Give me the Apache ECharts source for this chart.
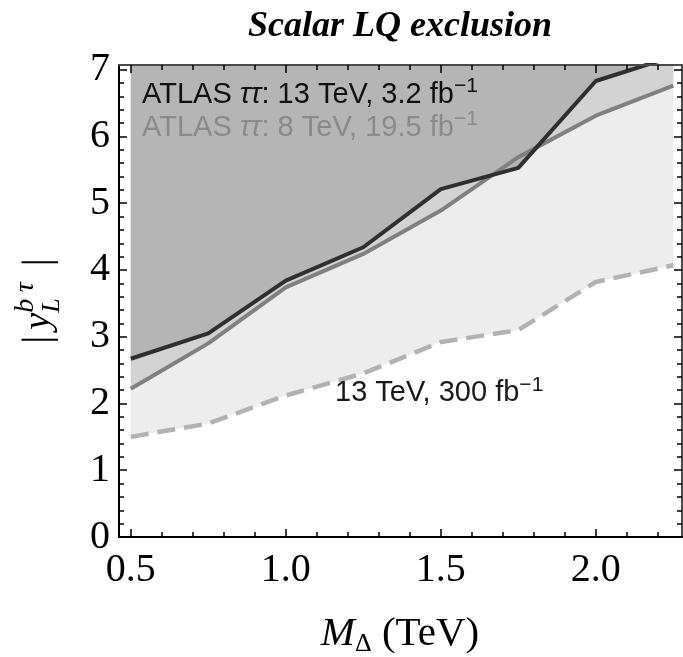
<!DOCTYPE html>
<html lang="en">
<head>
    <meta charset="UTF-8">
    <title>Scalar LQ exclusion</title>
    <script src="https://cdn.jsdelivr.net/npm/echarts@6/dist/echarts.min.js"></script>
    <style>
        html, body { margin: 0; padding: 0; background: #fff; }
        #chart { width: 683px; height: 657px; }
    </style>
</head>
<body>
<div id="chart"></div>

<script>
    // limits, M_Delta in TeV vs |y_L^{b tau}|
    const massTeV = [0.5, 0.75, 1.0, 1.25, 1.5, 1.75, 2.0, 2.25];
    const atlas13 = [2.67, 3.05, 3.84, 4.34, 5.21, 5.53, 6.83, 7.20];
    const atlas8 = [2.22, 2.90, 3.74, 4.24, 4.89, 5.69, 6.31, 6.76];
    const proj300 = [1.50, 1.70, 2.12, 2.45, 2.92, 3.10, 3.82, 4.07];

    const xMajor = [0.5, 1.0, 1.5, 2.0];
    const xMinor = [0.6, 0.7, 0.8, 0.9, 1.1, 1.2, 1.3, 1.4, 1.6, 1.7, 1.8, 1.9, 2.1, 2.2];
    const yMajor = [0, 1, 2, 3, 4, 5, 6, 7];
    const yMinor = [0.2, 0.4, 0.6, 0.8, 1.2, 1.4, 1.6, 1.8, 2.2, 2.4, 2.6, 2.8, 3.2, 3.4, 3.6, 3.8,
        4.2, 4.4, 4.6, 4.8, 5.2, 5.4, 5.6, 5.8, 6.2, 6.4, 6.6, 6.8];

    const X_MIN = 0.462, X_MAX = 2.278, Y_MIN = 0, Y_MAX = 7.07;

    const serif = '"Liberation Serif", "DejaVu Serif", serif';
    const sans = '"Liberation Sans", Arial, sans-serif';

    const chart = echarts.init(document.getElementById('chart'), null, {renderer: 'canvas'});

    // text made of runs (sub/superscripts), measured with a canvas
    const ctx = document.createElement('canvas').getContext('2d');
    function textRun(parts, opt) {
        let x = 0, hold = 0;
        const kids = [];
        parts.forEach(function (p) {
            const font = (p.style || '') + ' ' + p.size + 'px ' + (p.family || opt.family);
            ctx.font = font;
            const w = ctx.measureText(p.t).width;
            x += p.dx || 0;
            kids.push({
                type: 'text',
                z: 100,
                x: x,
                y: (p.dy || 0) - 0.34 * p.size,
                style: {text: p.t, font: font, fill: p.color || opt.color, align: 'left', verticalAlign: 'middle'}
            });
            if (p.stay) {
                hold = Math.max(hold, w);
            } else {
                x += Math.max(w, hold);
                hold = 0;
            }
        });
        if (opt.center) {
            kids.forEach(function (k) { k.x -= x / 2; });
        }
        return {type: 'group', x: opt.x, y: opt.y, rotation: opt.rotation || 0, z: 100, silent: true, children: kids};
    }

    const pts = ys => massTeV.map((m, i) => [m, ys[i]]);

    function band(ys, color, z) {
        return {
            type: 'line', data: pts(ys), symbol: 'none', silent: true, z: z,
            lineStyle: {width: 0, opacity: 0},
            areaStyle: {color: color, opacity: 1, origin: 'end'}
        };
    }

    function curve(ys, color, width, dash) {
        return {
            type: 'line', data: pts(ys), symbol: 'none', silent: true, z: 6,
            lineStyle: {color: color, width: width, type: dash || 'solid', cap: 'butt', join: 'round'}
        };
    }

    function xAxis(pos, ticks, len, labels, lineColor) {
        return {
            type: 'value', position: pos, min: X_MIN, max: X_MAX, z: 10,
            axisLine: {show: !!lineColor, onZero: false, lineStyle: {color: lineColor || '#000', width: 2}},
            axisTick: {show: true, inside: true, length: len, customValues: ticks, lineStyle: {color: '#000', width: 1.5}},
            axisLabel: labels ? {
                customValues: ticks, formatter: v => v.toFixed(1), margin: 13,
                fontFamily: serif, fontSize: 40, color: '#000'
            } : {show: false},
            splitLine: {show: false}
        };
    }

    function yAxis(pos, ticks, len, labels, lineColor) {
        return {
            type: 'value', position: pos, min: Y_MIN, max: Y_MAX, z: 10,
            axisLine: {show: !!lineColor, onZero: false, lineStyle: {color: lineColor || '#000', width: 2}},
            axisTick: {show: true, inside: true, length: len, customValues: ticks, lineStyle: {color: '#000', width: 1.5}},
            axisLabel: labels ? {
                customValues: ticks, formatter: v => String(v), margin: 9,
                fontFamily: serif, fontSize: 40, color: '#000'
            } : {show: false},
            splitLine: {show: false}
        };
    }

    const option = {
        animation: false,
        backgroundColor: '#fff',
        grid: {left: 119, right: 1, top: 65, bottom: 120, outerBoundsMode: 'none'},
        xAxis: [
            xAxis('bottom', xMajor, 8, true, '#000'),
            xAxis('bottom', xMinor, 5, false, null),
            xAxis('top', xMajor, 8, false, '#4a4a4a'),
            xAxis('top', xMinor, 5, false, null)
        ],
        yAxis: [
            yAxis('left', yMajor, 8, true, '#000'),
            yAxis('left', yMinor, 5, false, null),
            yAxis('right', yMajor, 8, false, '#4a4a4a'),
            yAxis('right', yMinor, 5, false, null)
        ],
        series: [
            band(proj300, '#ededed', 2),
            band(atlas8, '#d3d3d3', 3),
            band(atlas13, '#b5b5b5', 4),
            curve(proj300, '#b2b2b2', 4.5, [18, 9]),
            curve(atlas8, '#808080', 4),
            curve(atlas13, '#2f2f2f', 4)
        ],
        graphic: [
            textRun([{t: 'Scalar LQ exclusion', size: 36, style: 'italic bold'}],
                {x: 400, y: 39, center: true, family: serif, color: '#000'}),
            textRun([
                {t: 'ATLAS ', size: 29},
                {t: 'ττ', size: 29, style: 'italic'},
                {t: ': 13 TeV, 3.2 fb', size: 29},
                {t: '−1', size: 21, dy: -12}
            ], {x: 142, y: 105, family: sans, color: '#111'}),
            textRun([
                {t: 'ATLAS ', size: 29},
                {t: 'ττ', size: 29, style: 'italic'},
                {t: ': 8 TeV, 19.5 fb', size: 29},
                {t: '−1', size: 21, dy: -12}
            ], {x: 142, y: 138, family: sans, color: '#8a8a8a'}),
            textRun([
                {t: '13 TeV, 300 fb', size: 29},
                {t: '−1', size: 21, dy: -11}
            ], {x: 335, y: 403, family: sans, color: '#1a1a1a'}),
            textRun([
                {t: 'M', size: 41, style: 'italic'},
                {t: 'Δ', size: 26, dy: 5},
                {t: ' (TeV)', size: 41}
            ], {x: 400, y: 648, center: true, family: serif, color: '#000'}),
            textRun([
                {t: '|', size: 40},
                {t: 'y', size: 38, style: 'italic', dx: 6},
                {t: 'L', size: 26, style: 'italic', dy: 9, stay: true},
                {t: 'b', size: 28, style: 'italic', dy: -17},
                {t: 'τ', size: 28, style: 'italic', dy: -17, dx: 6},
                {t: '|', size: 40, dx: 16}
            ], {x: 52, y: 301, rotation: Math.PI / 2, center: true, family: serif, color: '#000'})
        ]
    };

    chart.setOption(option);
</script>
</body>
</html>
